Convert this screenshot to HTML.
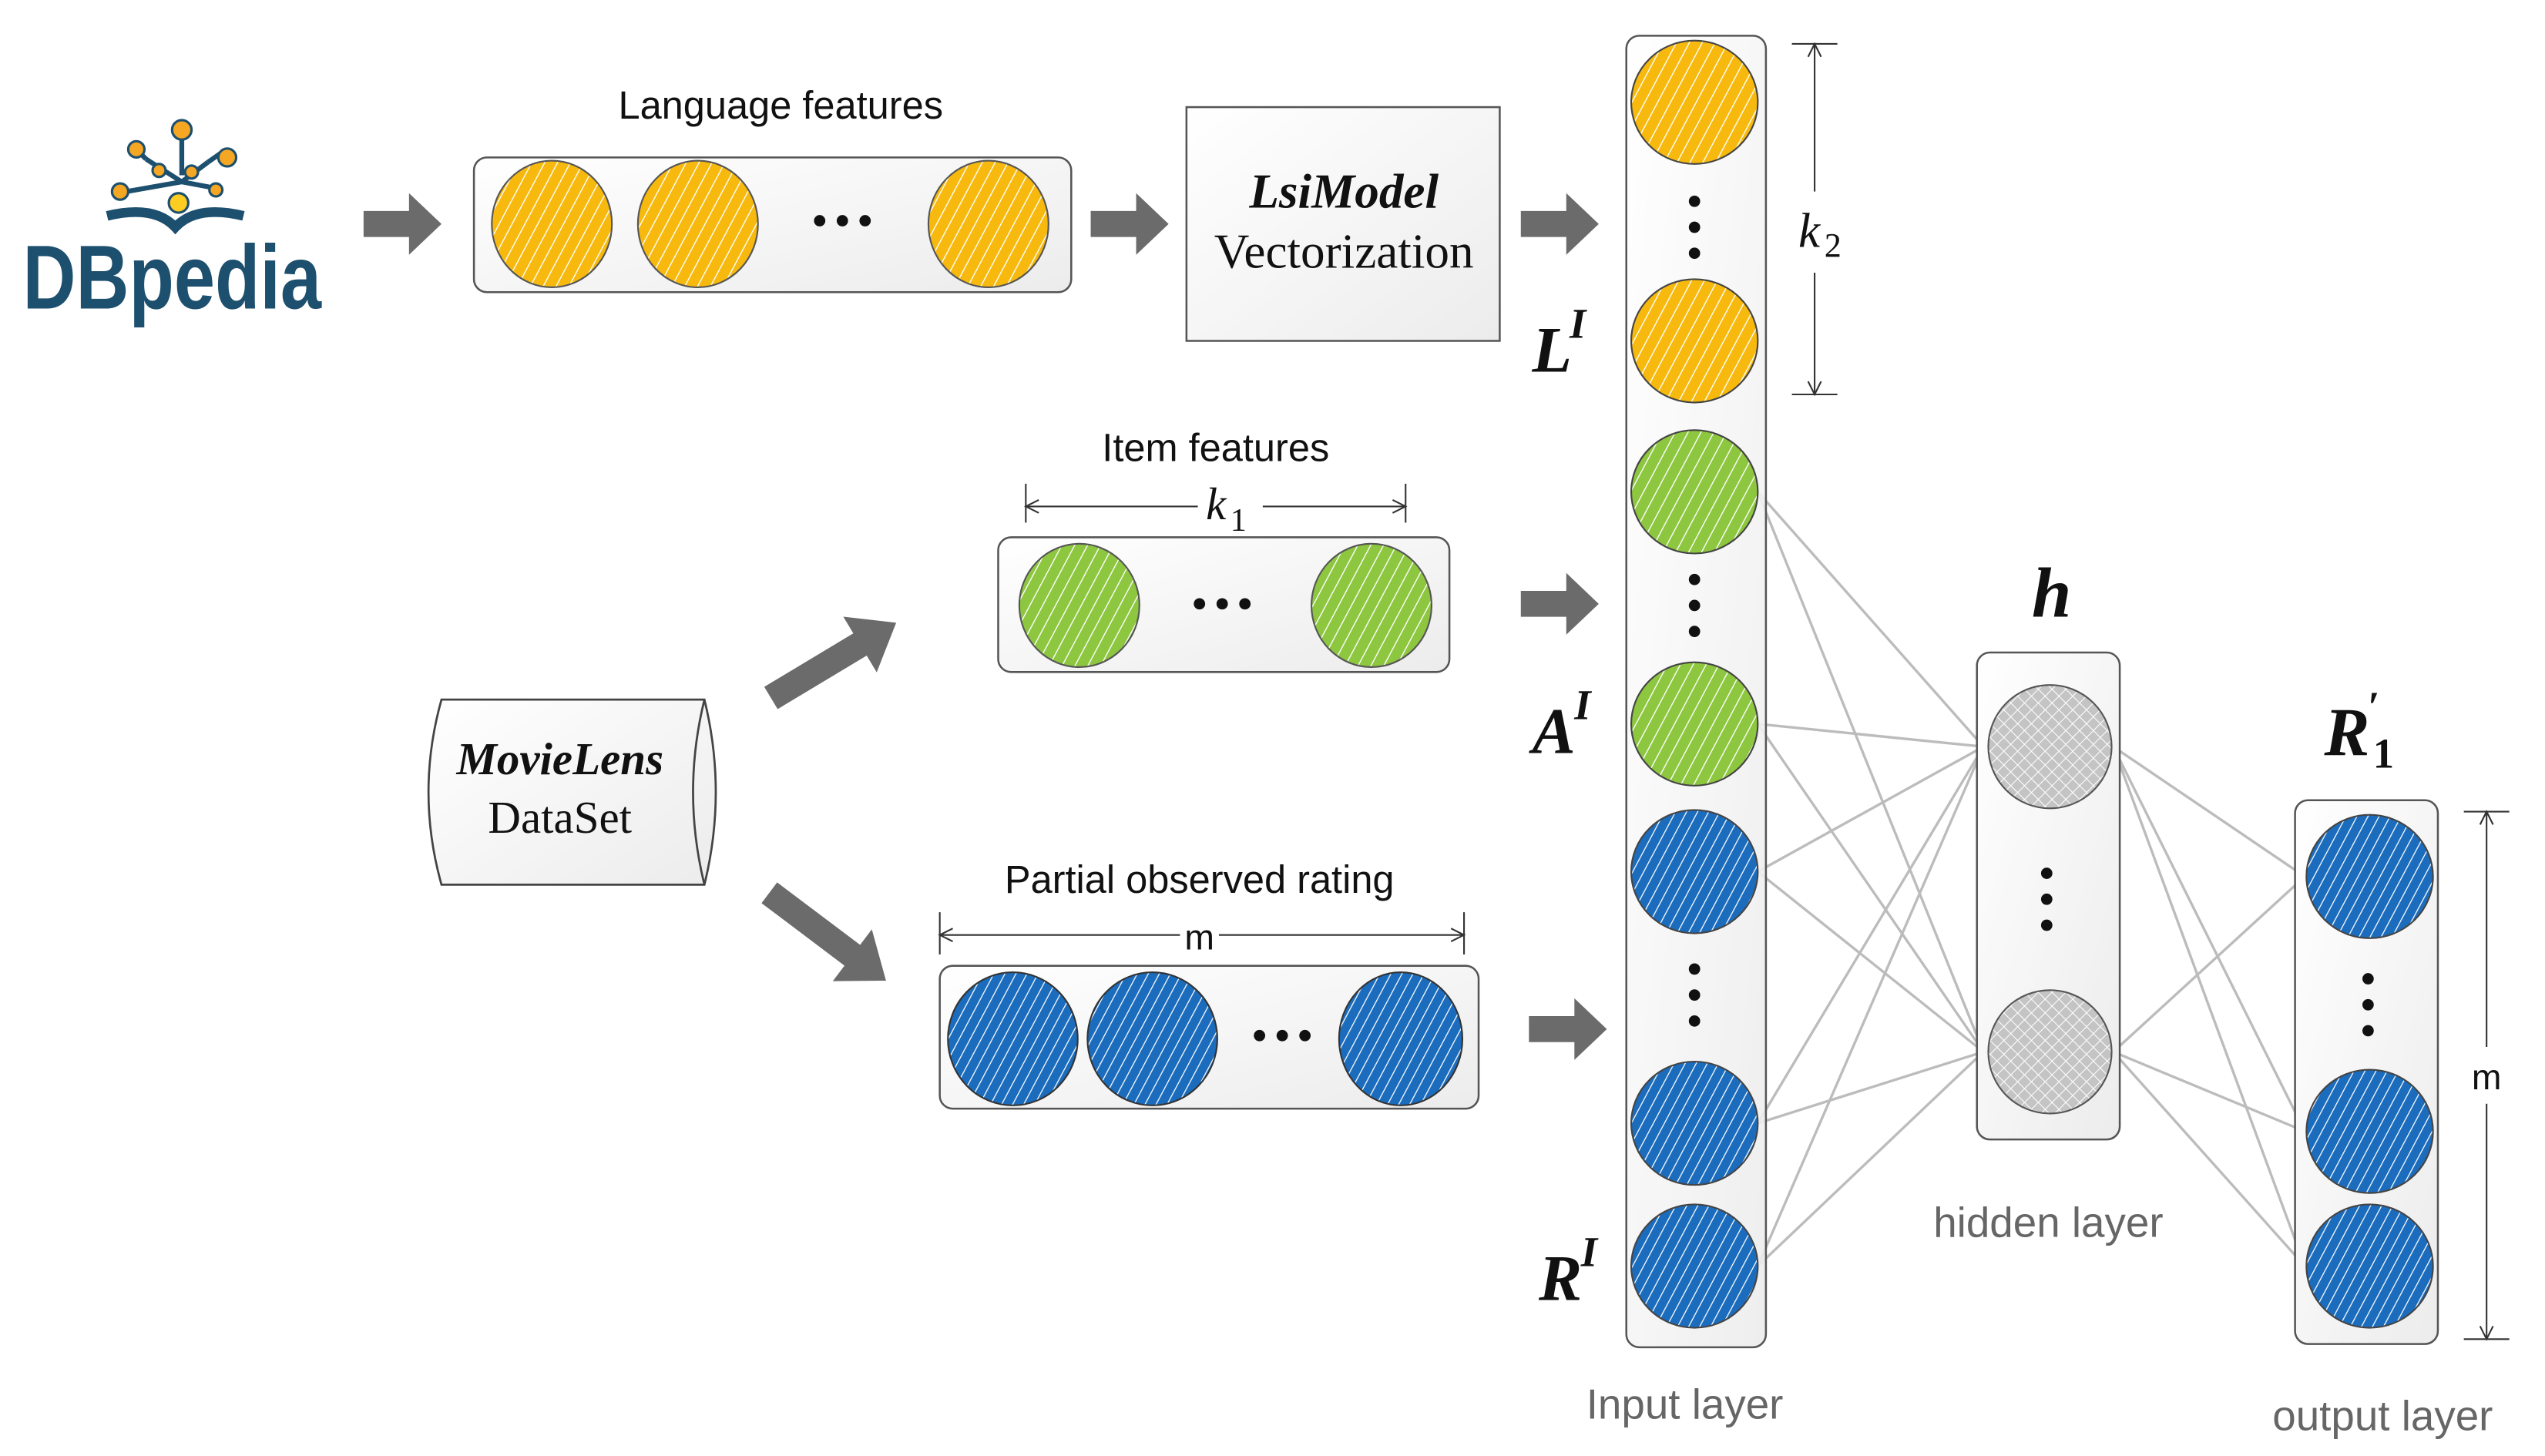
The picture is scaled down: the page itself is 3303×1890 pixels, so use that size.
<!DOCTYPE html>
<html><head><meta charset="utf-8"><style>
html,body{margin:0;padding:0;background:#fff}
svg{display:block}
.s{font-family:"Liberation Sans",sans-serif;fill:#111}
.g{font-family:"Liberation Sans",sans-serif;fill:#666}
.r{font-family:"Liberation Serif",serif;fill:#111}
</style></head><body>
<svg width="3303" height="1890" viewBox="0 0 1568 897" preserveAspectRatio="none" xmlns="http://www.w3.org/2000/svg">
<defs>
<pattern id="py" patternUnits="userSpaceOnUse" width="7" height="7" patternTransform="rotate(28)"><rect width="7" height="7" fill="#f7b90d"/><line x1="0" y1="0" x2="0" y2="7" stroke="#fff" stroke-width="1.3"/></pattern>
<pattern id="pg" patternUnits="userSpaceOnUse" width="7" height="7" patternTransform="rotate(28)"><rect width="7" height="7" fill="#8dc63f"/><line x1="0" y1="0" x2="0" y2="7" stroke="#fff" stroke-width="1.3"/></pattern>
<pattern id="pb" patternUnits="userSpaceOnUse" width="6" height="6" patternTransform="rotate(28)"><rect width="6" height="6" fill="#1b6cbd"/><line x1="0" y1="0" x2="0" y2="6" stroke="#fff" stroke-width="1.2"/></pattern>
<pattern id="px" patternUnits="userSpaceOnUse" width="6" height="6" patternTransform="rotate(45)"><rect width="6" height="6" fill="#c4c4c4"/><line x1="0" y1="0" x2="0" y2="6" stroke="#fff" stroke-width="1"/><line x1="0" y1="0" x2="6" y2="0" stroke="#fff" stroke-width="1"/></pattern>
<linearGradient id="bg" x1="0" y1="0" x2="1" y2="1"><stop offset="0" stop-color="#fff"/><stop offset="1" stop-color="#ececec"/></linearGradient>
<g id="ar"><polygon points="0,-8 28,-8 28,-19 48,0 28,19 28,8 0,8" fill="#6b6b6b"/></g>
<g id="ar2"><polygon points="0,-8 64,-8 64,-20 90,0 64,20 64,8 0,8" fill="#6b6b6b"/></g>
</defs>

<!-- DBpedia logo -->
<g stroke="#1d4f6e" stroke-width="3" fill="none">
<line x1="112" y1="108" x2="112" y2="82"/><line x1="112" y1="112" x2="90" y2="98"/><line x1="112" y1="112" x2="128" y2="100"/><line x1="112" y1="112" x2="78" y2="118"/><line x1="112" y1="112" x2="133" y2="116"/><line x1="90" y1="98" x2="82" y2="90"/><line x1="128" y1="100" x2="138" y2="93"/>
<path d="M66 133 Q95 126 108 140 Q121 126 150 133" stroke-width="6"/>
</g>
<g fill="#f5a623" stroke="#1d4f6e" stroke-width="1.5">
<circle cx="112" cy="80" r="6"/><circle cx="84" cy="92" r="5"/><circle cx="140" cy="97" r="5.5"/><circle cx="74" cy="118" r="5"/><circle cx="118" cy="106" r="4"/><circle cx="98" cy="105" r="4"/><circle cx="133" cy="117" r="4"/><circle cx="110" cy="125" r="6" fill="#ffcc22"/>
</g>
<text x="14" y="190" class="s" textLength="184" lengthAdjust="spacingAndGlyphs" style="font-weight:bold;font-size:56px;fill:#1d4f6e">DBpedia</text>

<!-- arrows -->
<use href="#ar" x="224" y="138"/>
<use href="#ar" x="672" y="138"/>
<use href="#ar" x="937" y="138"/>
<use href="#ar" x="937" y="372"/>
<use href="#ar" x="942" y="634"/>
<use href="#ar2" transform="translate(475,430) rotate(-31)"/>
<use href="#ar2" transform="translate(474,550) rotate(37)"/>

<!-- Language features -->
<text x="481" y="73" class="s" text-anchor="middle" font-size="24">Language features</text>
<rect x="292" y="97" width="368" height="83" rx="8" fill="url(#bg)" stroke="#555" stroke-width="1.2"/>
<g stroke="#555" stroke-width="1">
<ellipse cx="340" cy="138" rx="37" ry="39" fill="url(#py)"/>
<ellipse cx="430" cy="138" rx="37" ry="39" fill="url(#py)"/>
<ellipse cx="609" cy="138" rx="37" ry="39" fill="url(#py)"/>
</g>
<g fill="#111"><circle cx="505" cy="136" r="3.5"/><circle cx="519" cy="136" r="3.5"/><circle cx="533" cy="136" r="3.5"/></g>

<!-- LsiModel -->
<rect x="731" y="66" width="193" height="144" fill="url(#bg)" stroke="#555" stroke-width="1.2"/>
<text x="828" y="128" class="r" text-anchor="middle" font-size="30" font-style="italic" font-weight="bold">LsiModel</text>
<text x="828" y="165" class="r" text-anchor="middle" font-size="30">Vectorization</text>

<!-- Item features -->
<text x="749" y="284" class="s" text-anchor="middle" font-size="24">Item features</text>
<g stroke="#333" stroke-width="1" fill="none">
<line x1="632" y1="298" x2="632" y2="322"/><line x1="866" y1="298" x2="866" y2="322"/>
<line x1="632" y1="312" x2="738" y2="312"/><line x1="778" y1="312" x2="866" y2="312"/>
<path d="M640 308 L632 312 L640 316"/><path d="M858 308 L866 312 L858 316"/>
</g>
<text x="743" y="320" class="r" font-size="28" font-style="italic">k</text><text x="758" y="327" class="r" font-size="20">1</text>
<rect x="615" y="331" width="278" height="83" rx="8" fill="url(#bg)" stroke="#555" stroke-width="1.2"/>
<g stroke="#555" stroke-width="1">
<ellipse cx="665" cy="373" rx="37" ry="38" fill="url(#pg)"/>
<ellipse cx="845" cy="373" rx="37" ry="38" fill="url(#pg)"/>
</g>
<g fill="#111"><circle cx="739" cy="372" r="3.5"/><circle cx="753" cy="372" r="3.5"/><circle cx="767" cy="372" r="3.5"/></g>

<!-- MovieLens -->
<path d="M272 431 L434 431 Q448 488 434 545 L272 545 Q256 488 272 431 Z" fill="url(#bg)" stroke="#444" stroke-width="1.3"/>
<path d="M434 431 Q420 488 434 545" fill="none" stroke="#444" stroke-width="1.3"/>
<text x="345" y="477" class="r" text-anchor="middle" font-size="28" font-style="italic" font-weight="bold">MovieLens</text>
<text x="345" y="513" class="r" text-anchor="middle" font-size="28">DataSet</text>

<!-- Partial observed rating -->
<text x="739" y="550" class="s" text-anchor="middle" font-size="24">Partial observed rating</text>
<g stroke="#333" stroke-width="1" fill="none">
<line x1="579" y1="562" x2="579" y2="588"/><line x1="902" y1="562" x2="902" y2="588"/>
<line x1="579" y1="576" x2="727" y2="576"/><line x1="751" y1="576" x2="902" y2="576"/>
<path d="M587 572 L579 576 L587 580"/><path d="M894 572 L902 576 L894 580"/>
</g>
<text x="739" y="585" class="s" text-anchor="middle" font-size="22">m</text>
<rect x="579" y="595" width="332" height="88" rx="8" fill="url(#bg)" stroke="#555" stroke-width="1.2"/>
<g stroke="#333" stroke-width="1">
<ellipse cx="624" cy="640" rx="40" ry="41" fill="url(#pb)"/>
<ellipse cx="710" cy="640" rx="40" ry="41" fill="url(#pb)"/>
<ellipse cx="863" cy="640" rx="38" ry="41" fill="url(#pb)"/>
</g>
<g fill="#111"><circle cx="776" cy="638" r="3.5"/><circle cx="790" cy="638" r="3.5"/><circle cx="804" cy="638" r="3.5"/></g>

<!-- connections -->
<g stroke="#bcbcbc" stroke-width="1.6">
<line x1="1083" y1="303" x2="1222" y2="460"/><line x1="1083" y1="303" x2="1222" y2="648"/>
<line x1="1083" y1="446" x2="1222" y2="460"/><line x1="1083" y1="446" x2="1222" y2="648"/>
<line x1="1083" y1="537" x2="1222" y2="460"/><line x1="1083" y1="537" x2="1222" y2="648"/>
<line x1="1083" y1="692" x2="1222" y2="460"/><line x1="1083" y1="692" x2="1222" y2="648"/>
<line x1="1083" y1="780" x2="1222" y2="460"/><line x1="1083" y1="780" x2="1222" y2="648"/>
<line x1="1302" y1="460" x2="1420" y2="540"/><line x1="1302" y1="460" x2="1420" y2="697"/><line x1="1302" y1="460" x2="1420" y2="780"/>
<line x1="1302" y1="648" x2="1420" y2="540"/><line x1="1302" y1="648" x2="1420" y2="697"/><line x1="1302" y1="648" x2="1420" y2="780"/>
</g>

<!-- input layer -->
<rect x="1002" y="22" width="86" height="808" rx="8" fill="url(#bg)" stroke="#555" stroke-width="1.2" fill-opacity="0.9"/>
<g stroke="#444" stroke-width="1">
<ellipse cx="1044" cy="63" rx="39" ry="38" fill="url(#py)"/>
<ellipse cx="1044" cy="210" rx="39" ry="38" fill="url(#py)"/>
<ellipse cx="1044" cy="303" rx="39" ry="38" fill="url(#pg)"/>
<ellipse cx="1044" cy="446" rx="39" ry="38" fill="url(#pg)"/>
<ellipse cx="1044" cy="537" rx="39" ry="38" fill="url(#pb)"/>
<ellipse cx="1044" cy="692" rx="39" ry="38" fill="url(#pb)"/>
<ellipse cx="1044" cy="780" rx="39" ry="38" fill="url(#pb)"/>
</g>
<g fill="#111">
<circle cx="1044" cy="124" r="3.5"/><circle cx="1044" cy="140" r="3.5"/><circle cx="1044" cy="156" r="3.5"/>
<circle cx="1044" cy="357" r="3.5"/><circle cx="1044" cy="373" r="3.5"/><circle cx="1044" cy="389" r="3.5"/>
<circle cx="1044" cy="597" r="3.5"/><circle cx="1044" cy="613" r="3.5"/><circle cx="1044" cy="629" r="3.5"/>
</g>
<!-- k2 -->
<g stroke="#333" stroke-width="1" fill="none">
<line x1="1104" y1="27" x2="1132" y2="27"/><line x1="1104" y1="243" x2="1132" y2="243"/>
<line x1="1118" y1="27" x2="1118" y2="118"/><line x1="1118" y1="168" x2="1118" y2="243"/>
<path d="M1114 35 L1118 27 L1122 35"/><path d="M1114 235 L1118 243 L1122 235"/>
</g>
<text x="1108" y="152" class="r" font-size="30" font-style="italic">k</text><text x="1124" y="158" class="r" font-size="21">2</text>
<text x="944" y="229" class="r" font-size="40" font-style="italic" font-weight="bold">L</text><text x="967" y="208" class="r" font-size="26" font-style="italic" font-weight="bold">I</text>
<text x="944" y="464" class="r" font-size="40" font-style="italic" font-weight="bold">A</text><text x="970" y="443" class="r" font-size="26" font-style="italic" font-weight="bold">I</text>
<text x="948" y="801" class="r" font-size="40" font-style="italic" font-weight="bold">R</text><text x="974" y="780" class="r" font-size="26" font-style="italic" font-weight="bold">I</text>
<text x="1038" y="874" class="g" text-anchor="middle" font-size="26">Input layer</text>

<!-- hidden -->
<rect x="1218" y="402" width="88" height="300" rx="8" fill="url(#bg)" stroke="#555" stroke-width="1.2"/>
<g stroke="#555" stroke-width="1">
<ellipse cx="1263" cy="460" rx="38" ry="38" fill="url(#px)"/>
<ellipse cx="1263" cy="648" rx="38" ry="38" fill="url(#px)"/>
</g>
<g fill="#111"><circle cx="1261" cy="538" r="3.5"/><circle cx="1261" cy="554" r="3.5"/><circle cx="1261" cy="570" r="3.5"/></g>
<text x="1264" y="380" class="r" text-anchor="middle" font-size="44" font-style="italic" font-weight="bold">h</text>
<text x="1262" y="762" class="g" text-anchor="middle" font-size="26">hidden layer</text>

<!-- output -->
<rect x="1414" y="493" width="88" height="335" rx="8" fill="url(#bg)" stroke="#555" stroke-width="1.2"/>
<g stroke="#444" stroke-width="1">
<ellipse cx="1460" cy="540" rx="39" ry="38" fill="url(#pb)"/>
<ellipse cx="1460" cy="697" rx="39" ry="38" fill="url(#pb)"/>
<ellipse cx="1460" cy="780" rx="39" ry="38" fill="url(#pb)"/>
</g>
<g fill="#111"><circle cx="1459" cy="603" r="3.5"/><circle cx="1459" cy="619" r="3.5"/><circle cx="1459" cy="635" r="3.5"/></g>
<text x="1432" y="465" class="r" font-size="42" font-style="italic" font-weight="bold">R</text><text x="1459" y="444" class="r" font-size="26" font-weight="bold">′</text><text x="1462" y="473" class="r" font-size="26" font-weight="bold">1</text>
<g stroke="#333" stroke-width="1" fill="none">
<line x1="1518" y1="500" x2="1546" y2="500"/><line x1="1518" y1="825" x2="1546" y2="825"/>
<line x1="1532" y1="500" x2="1532" y2="645"/><line x1="1532" y1="680" x2="1532" y2="825"/>
<path d="M1528 508 L1532 500 L1536 508"/><path d="M1528 817 L1532 825 L1536 817"/>
</g>
<text x="1532" y="671" class="s" text-anchor="middle" font-size="22">m</text>
<text x="1468" y="881" class="g" text-anchor="middle" font-size="26">output layer</text>
</svg>
</body></html>
